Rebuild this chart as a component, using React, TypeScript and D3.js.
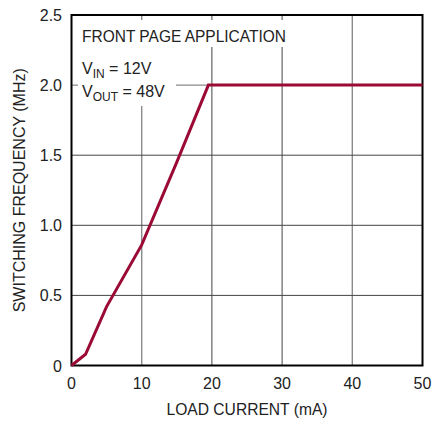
import React from "react";
import * as d3 from "d3";

const loadCurrent = [0, 2, 5, 10, 15, 19.5, 50];
const frequency = [0, 0.08, 0.42, 0.86, 1.45, 2.0, 2.0];
const xTicks = [0, 10, 20, 30, 40, 50];
const yTicks = [0, 0.5, 1.0, 1.5, 2.0, 2.5];
const yTickLabels = ["0", "0.5", "1.0", "1.5", "2.0", "2.5"];

const W = 435, H = 421;
const M = { left: 71.5, right: 422.5, top: 15, bottom: 365.5 };
const FONT = "'Liberation Sans Narrow', 'Arial Narrow', 'Liberation Sans', sans-serif";

export default function App() {
  const x = d3.scaleLinear().domain([0, 50]).range([M.left, M.right]);
  const y = d3.scaleLinear().domain([0, 2.5]).range([M.bottom, M.top]);
  const line = d3.line<number>().x((d, i) => x(loadCurrent[i])).y((d) => y(d));
  return (
    <svg width={W} height={H} style={{ position: "absolute", left: 0, top: 0, background: "#fff" }} fontFamily={FONT}>
      {xTicks.slice(1, -1).map((t, i) => (
        <line key={"gx" + t} x1={x(t)} x2={x(t)} y1={M.top} y2={M.bottom}
          stroke={i === 0 || i === 3 ? "#8a8a8a" : "#444"} strokeWidth={i === 0 || i === 3 ? 1.4 : 1} />
      ))}
      {yTicks.slice(1, -1).map((t, i) => (
        <line key={"gy" + t} x1={M.left} x2={M.right} y1={y(t)} y2={y(t)}
          stroke={i === 3 ? "#8a8a8a" : "#444"} strokeWidth={i === 3 ? 1.4 : 1} />
      ))}
      <rect x={78} y={20} width={214} height={27} fill="#fff" />
      <rect x={78} y={47} width={98} height={59} fill="#fff" />
      <rect x={M.left} y={M.top} width={M.right - M.left} height={M.bottom - M.top} fill="none" stroke="#000" strokeWidth={2} />
      <path d={line(frequency) || ""} fill="none" stroke="#9b0a35" strokeWidth={3} strokeLinejoin="miter" />
      <g fontSize={16} fill="#222">
        <text x={82} y={42} textLength={204} lengthAdjust="spacingAndGlyphs">FRONT PAGE APPLICATION</text>
        <text x={82} y={74}>V<tspan fontSize={12} dy={4}>IN</tspan><tspan dy={-4}> = 12V</tspan></text>
        <text x={82} y={97}>V<tspan fontSize={12} dy={4}>OUT</tspan><tspan dy={-4}> = 48V</tspan></text>
      </g>
      <g fontSize={16} fill="#222">
        {yTicks.map((t, i) => (
          <text key={"yl" + t} x={62} y={y(t) + 6} textAnchor="end">{yTickLabels[i]}</text>
        ))}
        {xTicks.map((t) => (
          <text key={"xl" + t} x={x(t)} y={389} textAnchor="middle">{t}</text>
        ))}
        <text x={247} y={415} textAnchor="middle" textLength={161} lengthAdjust="spacingAndGlyphs">LOAD CURRENT (mA)</text>
        <text transform={`translate(25,${(M.top + M.bottom) / 2}) rotate(-90)`} textAnchor="middle">SWITCHING FREQUENCY (MHz)</text>
      </g>
    </svg>
  );
}
